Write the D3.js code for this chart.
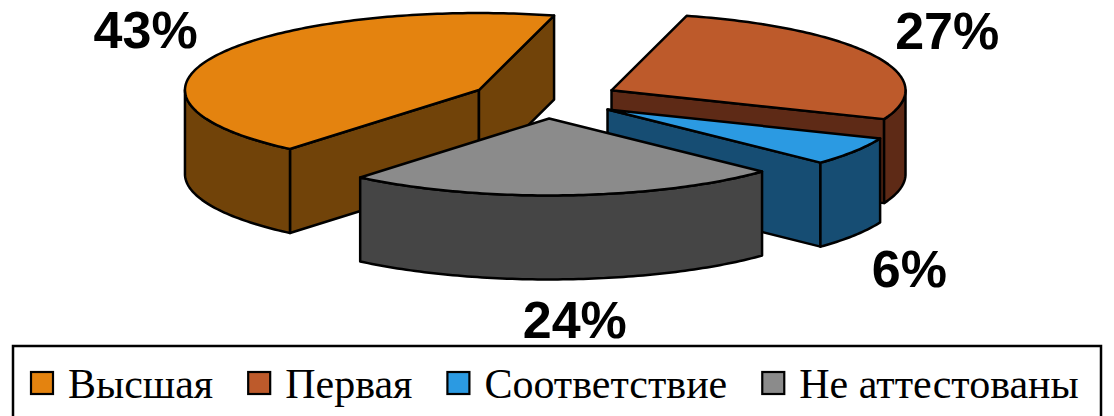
<!DOCTYPE html>
<html><head><meta charset="utf-8">
<script src="https://cdn.jsdelivr.net/npm/d3@7"></script>
<style>html,body{margin:0;padding:0;background:#fff;} svg{display:block}</style>
</head><body>
<svg id="chart" width="1114" height="416"></svg>
<script>
const categories = ["Высшая", "Первая", "Соответствие", "Не аттестованы"];
const values = [43, 27, 6, 24];
const valueLabels = ["43%", "27%", "6%", "24%"];
const topColors = ["#E4830F", "#BD5A2B", "#2B9AE2", "#8B8B8B"];
const sideColors = ["#714309", "#5E2A16", "#164D73", "#454545"];

const svg = d3.select("#chart");
const deg = Math.PI / 180;
const cx = 545, cy = 99, rx = 294, ry = 77, depth = 84, explode = 0.253;

const pie = d3.pie().sort(null).value(d => d)
  .startAngle(220 * deg).endAngle(580 * deg);
const arcs = pie(values);

const proj = (a, r, o, dz) => [o[0] + r * rx * Math.sin(a), o[1] - r * ry * Math.cos(a) + (dz || 0)];
const sample = (a0, a1) => {
  const n = Math.max(2, Math.ceil(Math.abs(a1 - a0) / (1 * deg)));
  return d3.range(n + 1).map(i => a0 + (a1 - a0) * i / n);
};
const line = d3.line();

arcs.forEach((d, i) => {
  d.mid = (d.startAngle + d.endAngle) / 2;
  d.o = proj(d.mid, explode, [cx, cy]);
  d.i = i;
});

const order = arcs.slice().sort((a, b) => (-Math.cos(a.mid)) - (-Math.cos(b.mid)));
const g = svg.append("g").attr("stroke", "#000").attr("stroke-width", 2.5).attr("stroke-linejoin", "round");

order.forEach(d => {
  const o = d.o, a0 = d.startAngle, a1 = d.endAngle;
  const side = sideColors[d.i], top = topColors[d.i];
  const radial = a => {
    const c = proj(a, 0, o), p = proj(a, 1, o);
    return line([c, p, [p[0], p[1] + depth], [c[0], c[1] + depth]]) + "Z";
  };
  if (Math.sin(a0) < 0) g.append("path").attr("d", radial(a0)).attr("fill", side);
  if (Math.sin(a1) > 0) g.append("path").attr("d", radial(a1)).attr("fill", side);
  [0, 1].forEach(k => {
    const lo = Math.max(a0, 90 * deg + k * 360 * deg), hi = Math.min(a1, 270 * deg + k * 360 * deg);
    if (hi > lo) {
      const s = sample(lo, hi);
      const upper = s.map(a => proj(a, 1, o));
      const lower = s.slice().reverse().map(a => proj(a, 1, o, depth));
      g.append("path").attr("d", line(upper.concat(lower)) + "Z").attr("fill", side);
    }
  });
  const pts = [proj(0, 0, o)].concat(sample(a0, a1).map(a => proj(a, 1, o)));
  g.append("path").attr("d", line(pts) + "Z").attr("fill", top);
});

arcs.forEach(d => {
  const front = Math.cos(d.mid) < 0;
  const x = front ? cx + 6 + 1.45 * rx * Math.sin(d.mid) : cx + 1.53 * rx * Math.sin(d.mid);
  const y = cy - 1.45 * ry * Math.cos(d.mid) + (front ? depth + 44 : 0);
  svg.append("text").attr("x", x).attr("y", y).attr("text-anchor", "middle")
    .style("font-family", '"Liberation Sans", Arial, sans-serif').style("font-weight", "bold")
    .style("font-size", "52px").attr("fill", "#000").text(valueLabels[d.i]);
});

const leg = svg.append("g");
leg.append("rect").attr("x", 13).attr("y", 346).attr("width", 1088).attr("height", 90)
  .attr("fill", "#fff").attr("stroke", "#000").attr("stroke-width", 2.5);
let lx = 30;
categories.forEach((c, i) => {
  leg.append("rect").attr("x", lx + 1).attr("y", 372).attr("width", 22).attr("height", 22)
    .attr("fill", topColors[i]).attr("stroke", "#000").attr("stroke-width", 2.2);
  const t = leg.append("text").attr("x", lx + 38).attr("y", 398)
    .style("font-family", '"Liberation Serif", "Times New Roman", serif')
    .style("font-size", "42px").attr("fill", "#000").text(c);
  lx = lx + 38 + t.node().getComputedTextLength() + 34;
});
</script>
</body></html>
